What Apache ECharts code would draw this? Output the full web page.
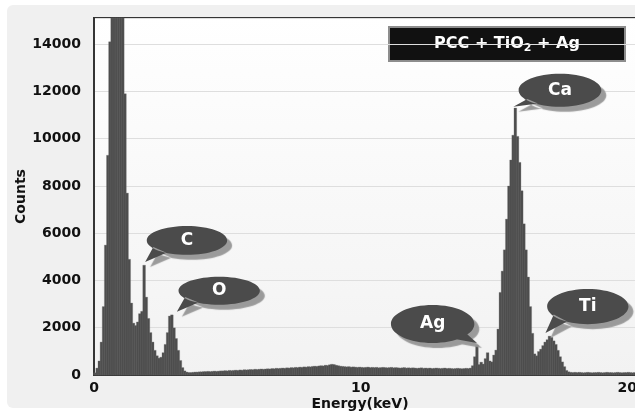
<!DOCTYPE html>
<html>
<head>
<meta charset="utf-8">
<script src="https://cdn.jsdelivr.net/npm/echarts@6/dist/echarts.min.js"></script>
<style>
  html, body { margin: 0; padding: 0; background: #ffffff; }
  #chart { width: 635px; height: 414px; }
</style>
</head>
<body>
<div id="chart"></div>
<script>
// EDS spectrum of PCC + TiO2 + Ag: counts per energy channel (0.08 keV wide)
const BIN_KEV = 0.08;

const counts = [
  // 0 - 3.68 keV : low-energy peak, C and O lines
  100, 300, 600, 1400, 2900, 5500, 9300, 14100, 17500, 20500,
  22000, 21000, 19000, 16000, 11900, 7700, 4900, 3050, 2200, 2100,
  2250, 2600, 2700, 4650, 3300, 2400, 1800, 1400, 1050, 820,
  720, 760, 950, 1300, 1800, 2500, 2550, 2000, 1550, 1050,
  620, 320, 180, 130, 110, 110,
  // 3.68 - 14.24 keV : background continuum
  120, 130, 130, 140, 140, 150, 150, 160, 150, 160, 170, 160, 170, 180,
  180, 190, 180, 200, 190, 200, 210, 200, 220, 210, 230, 220, 230, 240, 230, 250, 240, 250, 260, 250,
  260, 270, 260, 280, 270, 290, 280, 290, 300, 290, 310, 300, 320, 310, 330, 320, 340, 330, 350, 340,
  360, 350, 370, 380, 370, 390, 400, 390, 420, 410, 440, 460, 450, 420, 400,
  380, 370, 360, 350, 360, 340, 350, 340, 330, 340, 330, 320, 330, 340, 320, 330, 320, 330, 310, 320,
  330, 320, 310, 320, 330, 310, 320, 310, 300, 310, 320, 300, 310, 300, 310, 300, 290, 300, 310, 290, 300, 290, 300, 280, 290, 300,
  290, 280, 290, 300, 280, 290, 280, 270, 280, 290, 280, 270, 280, 290, 280, 300, 400,
  // 14.24 - 17.92 keV : Ag, Ca and Ti lines
  780, 1270, 450, 550, 470, 700, 950, 600, 560, 850,
  1060, 1950, 3500, 4400, 5300, 6600, 8000, 9100, 10150, 11300,
  10100, 9000, 7800, 6400, 5300, 4150, 2900, 1770, 900, 820,
  1000, 1100, 1250, 1400, 1500, 1650, 1600, 1450, 1300, 1050,
  780, 560, 360, 200, 140, 120,
  // 17.92 - 20.4 keV : tail
  110, 120, 110, 120, 110, 100, 110, 120, 110, 100, 110, 110, 120, 110, 100, 110,
  120, 110, 110, 100, 110, 120, 110, 100, 110, 110, 120, 110, 100, 110, 110
];

const xTicks = [0, 10, 20];
const yTicks = [0, 2000, 4000, 6000, 8000, 10000, 12000, 14000];

// element lines and the channel holding each line's maximum
const peakNames = ['C', 'O', 'Ag', 'Ca', 'Ti'];
const peakChannels = [23, 36, 179, 197, 213];

const sampleName = 'PCC + TiO{sub|2} + Ag';

// callout shapes (100 x 100 box, tail tip at a bottom corner)
const ELLIPSE_LOW = 'M2,40 C2,17.9 23.9,0 51,0 C78.1,0 100,17.9 100,40 C100,62.1 78.1,80 51,80 C23.9,80 2,62.1 2,40 Z M10,58 L0,100 L26,74 Z';
const ELLIPSE_SIDE = 'M6,50 C6,22.4 27,0 53,0 C79,0 100,22.4 100,50 C100,77.6 79,100 53,100 C27,100 6,77.6 6,50 Z M16,76 L0,100 L28,90 Z';
const ELLIPSE_SIDE_R = 'M0,50 C0,22.4 21.8,0 48.5,0 C75.2,0 97,22.4 97,50 C97,77.6 75.2,100 48.5,100 C21.8,100 0,77.6 0,50 Z M88,76 L100,100 L76,90 Z';

// per callout: shape, size and where the tail tip sits relative to the peak top
const calloutStyle = {
  C:  { path: ELLIPSE_LOW,    w: 82, h: 36, tip: [1, -3],  text: [0.01, -0.10], dir: 1 },
  O:  { path: ELLIPSE_LOW,    w: 83, h: 35, tip: [5, -3],  text: [0.01, -0.10], dir: 1 },
  Ag: { path: ELLIPSE_SIDE_R, w: 86, h: 38, tip: [0, -2],  text: [-0.015, 0],   dir: -1 },
  Ca: { path: ELLIPSE_SIDE,   w: 88, h: 33, tip: [-2, -1], text: [0.03, 0],     dir: 1 },
  Ti: { path: ELLIPSE_LOW,    w: 83, h: 44, tip: [-4, -3], text: [0.01, -0.10], dir: 1 }
};

const FONT = '"DejaVu Sans", "Liberation Sans", sans-serif';

const barData = counts.map((c, i) => [(i + 0.5) * BIN_KEV, c]);

const calloutData = peakNames.map((name, k) => {
  const ch = peakChannels[k];
  const s = calloutStyle[name];
  return {
    name: name,
    coord: [(ch + 0.5) * BIN_KEV, counts[ch]],
    symbol: 'path://' + s.path,
    symbolKeepAspect: false,
    symbolSize: [s.w, s.h],
    symbolOffset: [s.dir * s.w / 2 + s.tip[0], -s.h / 2 + s.tip[1]],
    label: { offset: [s.text[0] * s.w, s.text[1] * s.h] }
  };
});

const chart = echarts.init(document.getElementById('chart'), null, { renderer: 'canvas' });

chart.setOption({
  animation: false,
  backgroundColor: '#ffffff',
  textStyle: { fontFamily: FONT },
  graphic: [
    {
      type: 'rect', z: -10, silent: true,
      shape: { x: 7, y: 5, width: 640, height: 403, r: 6 },
      style: { fill: '#f0f0f0' }
    },
    {
      type: 'group', z: 100, silent: true,
      children: [
        {
          type: 'rect',
          shape: { x: 389, y: 27, width: 236, height: 34 },
          style: { fill: '#111111', stroke: '#8d8d8d', lineWidth: 2 }
        },
        {
          type: 'text',
          x: 507, y: 44,
          style: {
            text: sampleName,
            fill: '#ffffff',
            font: 'bold 16px ' + FONT,
            align: 'center',
            verticalAlign: 'middle',
            lineHeight: 20,
            rich: {
              sub: { fontSize: 11, fontWeight: 'bold', fontFamily: FONT, fill: '#ffffff', lineHeight: 4, verticalAlign: 'bottom' }
            }
          }
        }
      ]
    }
  ],
  grid: {
    left: 94, right: -3, top: 18, bottom: 39,
    outerBoundsMode: 'none',
    containLabel: false,
    show: true,
    borderColor: '#353535',
    borderWidth: 2,
    backgroundColor: {
      type: 'linear', x: 0, y: 0, x2: 0, y2: 1,
      colorStops: [{ offset: 0, color: '#ffffff' }, { offset: 1, color: '#f2f2f2' }]
    }
  },
  xAxis: {
    type: 'value',
    min: xTicks[0],
    max: 20.4,
    interval: xTicks[1] - xTicks[0],
    name: 'Energy(keV)',
    nameLocation: 'middle',
    nameGap: 22,
    nameMoveOverlap: false,
    nameTextStyle: { fontFamily: FONT, fontWeight: 'bold', fontSize: 14, color: '#111', padding: [0, 12, 0, 0] },
    axisLine: { show: true, lineStyle: { color: '#353535', width: 2 } },
    axisTick: { show: false },
    splitLine: { show: false },
    axisLabel: {
      margin: 6,
      showMaxLabel: false,
      fontFamily: FONT, fontWeight: 'bold', fontSize: 14, color: '#111',
      formatter: v => (xTicks.indexOf(v) >= 0 ? String(v) : '')
    }
  },
  yAxis: {
    type: 'value',
    min: yTicks[0],
    max: 15100,
    interval: yTicks[1] - yTicks[0],
    name: 'Counts',
    nameLocation: 'middle',
    nameGap: 66,
    nameMoveOverlap: false,
    nameTextStyle: { fontFamily: FONT, fontWeight: 'bold', fontSize: 14, color: '#111' },
    axisLine: { show: true, lineStyle: { color: '#353535', width: 2 } },
    axisTick: { show: false },
    splitLine: { show: true, lineStyle: { color: '#dedede', width: 1 } },
    axisLabel: {
      margin: 13,
      showMaxLabel: false,
      fontFamily: FONT, fontWeight: 'bold', fontSize: 14, color: '#111',
      formatter: v => (yTicks.indexOf(v) >= 0 ? String(v) : '')
    }
  },
  series: [
    {
      name: 'Counts',
      type: 'bar',
      data: barData,
      barWidth: 3,
      barMaxWidth: 3,
      barMinWidth: 3,
      clip: true,
      silent: true,
      itemStyle: { color: '#4d4d4d', borderColor: '#707070', borderWidth: 0.3 },
      markPoint: {
        silent: true,
        data: calloutData,
        itemStyle: {
          color: '#4b4b4b',
          shadowColor: 'rgba(150,150,150,0.95)',
          shadowBlur: 1,
          shadowOffsetX: 5,
          shadowOffsetY: 5
        },
        label: {
          show: true,
          position: 'inside',
          formatter: '{b}',
          color: '#ffffff',
          fontFamily: FONT,
          fontWeight: 'bold',
          fontSize: 17
        },
        emphasis: { disabled: true }
      }
    }
  ]
});
</script>
</body>
</html>
